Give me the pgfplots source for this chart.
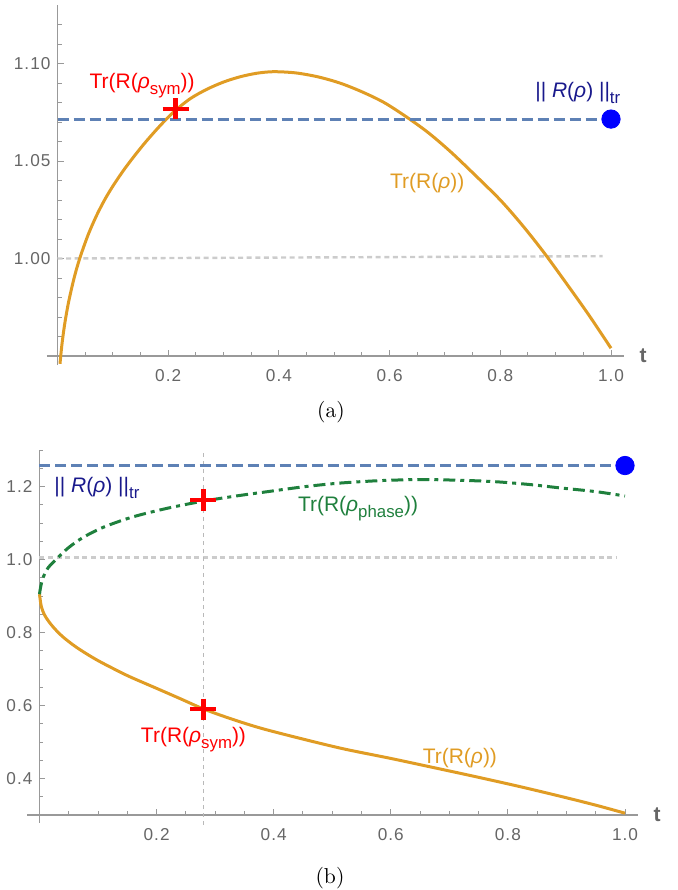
\documentclass[border=0pt]{standalone}
\usepackage{fontspec}
\usepackage{pgfplots}
\pgfplotsset{compat=1.18}

\newfontfamily\mma{Liberation Sans}
\newfontfamily\mmatick[LetterSpace=6]{Liberation Sans}
\newcommand\tickfont{\mmatick\fontsize{8.6}{10}\selectfont}
\newcommand\lblfont{\mma\fontsize{10.5}{12}\selectfont}
\newcommand\sub[1]{\raisebox{-0.28em}{\scalebox{0.8}{#1}}}

\definecolor{mblue}{rgb}{0.368,0.507,0.71}
\definecolor{morange}{rgb}{0.88,0.611,0.142}
\definecolor{mgreen}{rgb}{0.12,0.50,0.24}
\definecolor{mnavy}{rgb}{0.1,0.1,0.55}
\definecolor{axgray}{gray}{0.6}
\definecolor{lblgray}{gray}{0.4}
\definecolor{dotgray}{gray}{0.8}

\pgfplotsset{
  mma/.style={
    scale only axis, axis lines*=left, clip=false,
    axis line style={draw=axgray, line width=0.6pt},
    tick style={draw=axgray, line width=0.5pt},
    tick align=inside, major tick length=3pt, minor tick length=2pt,
    ticklabel style={font=\tickfont, text=lblgray},
    xticklabel style={yshift=-3.3pt},
    xmin=0, xmax=1,
    xtick={0.2,0.4,0.6,0.8,1.0},
    xticklabels={0.2,0.4,0.6,0.8,1.0},
    minor xtick={0.05,0.1,0.15,0.25,0.3,0.35,0.45,0.5,0.55,0.65,0.7,0.75,0.85,0.9,0.95},
  },
  refline/.style={dotgray, line width=1.2pt, dash pattern=on 2.5pt off 1.8pt},
  normline/.style={mblue, line width=1.5pt, dash pattern=on 5.5pt off 2.5pt},
  curve/.style={morange, line width=1.5pt, smooth},
  cross/.style={only marks, mark=+, red, mark size=6.5pt,
    mark options={line width=2.2pt, yscale=0.82}},
  bigdot/.style={only marks, mark=*, blue, mark size=4.6pt},
}

\begin{document}
\begin{tikzpicture}
\useasboundingbox (0pt,0pt) rectangle (338.5pt,-445pt);

% ---------- (a) ----------
\begin{axis}[mma,
  at={(28.75pt,-178pt)}, anchor=south west,
  width=276.75pt, height=175.5pt,
  ymin=0.95, ymax=1.13,
  ytick={1.00,1.05,1.10}, yticklabels={1.00,1.05,1.10},
  minor ytick={0.96,0.97,0.98,0.99,1.01,1.02,1.03,1.04,1.06,1.07,1.08,1.09,1.11,1.12},
  x axis line style={shorten <=-5.3pt, shorten >=-6.6pt},
  y axis line style={shorten <=-4.5pt},
]
\addplot[refline] coordinates {(0,1.000) (0.985,1.0012)};
\addplot[curve] coordinates {
  (0.0045,0.946) (0.008,0.9559) (0.013,0.9664) (0.02,0.9776) (0.03,0.9900)
  (0.04,0.9999) (0.055,1.0119) (0.07,1.0217) (0.085,1.0300) (0.10,1.0371)
  (0.12,1.0455) (0.14,1.0530) (0.16,1.0600) (0.185,1.0680) (0.21,1.0752)
  (0.24,1.0820) (0.27,1.0868) (0.30,1.0905) (0.33,1.0932) (0.36,1.0950)
  (0.39,1.0958) (0.43,1.0952) (0.47,1.0932) (0.51,1.0900) (0.55,1.0855)
  (0.59,1.0800) (0.631,1.0725) (0.67,1.0645) (0.71,1.0548) (0.75,1.0440)
  (0.80,1.0300) (0.84,1.0170) (0.879,1.0030) (0.92,0.987) (0.96,0.971)
  (1.0,0.954)};
\addplot[bigdot] coordinates {(1,1.0715)};
\addplot[normline] coordinates {(0,1.0715) (1,1.0715)};
\addplot[cross] coordinates {(0.2135,1.0768)};
\node[font=\lblfont, text=red] at (axis cs:0.153,1.0887) {Tr(R(\textit{ρ}\sub{sym}))};
\node[font=\lblfont, text=mnavy] at (axis cs:0.94,1.0851) {|| \textit{R}(\textit{ρ}) ||\sub{tr}};
\node[font=\lblfont, text=morange] at (axis cs:0.668,1.0385) {Tr(R(\textit{ρ}))};
\node[font=\mma\bfseries\fontsize{10.5}{12}\selectfont, text=lblgray, xshift=16pt] at (axis cs:1,0.95) {t};
\end{axis}
\node[font=\fontsize{10.8}{13}\selectfont] at (165.5pt,-206pt) {(a)};

% ---------- (b) ----------
\begin{axis}[mma,
  at={(19.75pt,-407.5pt)}, anchor=south west,
  width=292.75pt, height=182.5pt,
  ymin=0.3, ymax=1.3,
  ytick={0.4,0.6,0.8,1.0,1.2}, yticklabels={0.4,0.6,0.8,1.0,1.2},
  minor ytick={0.35,0.45,0.5,0.55,0.65,0.7,0.75,0.85,0.9,0.95,1.05,1.1,1.15,1.25,1.3},
  x axis line style={shorten <=-6pt, shorten >=-6.3pt},
  y axis line style={shorten <=-3.8pt},
]
\addplot[refline] coordinates {(0,1.005) (0.987,1.005)};
\addplot[gray!55, line width=0.9pt, dash pattern=on 2pt off 2pt] coordinates {(0.28,0.273) (0.28,1.3)};
\addplot[curve] coordinates {
  (0,0.905) (0.003,0.872) (0.008,0.850) (0.015,0.832) (0.025,0.812)
  (0.04,0.788) (0.06,0.763) (0.08,0.742) (0.10,0.723) (0.125,0.702)
  (0.154,0.679) (0.2,0.647) (0.24,0.619) (0.281,0.590) (0.33,0.562)
  (0.38,0.537) (0.45,0.508) (0.52,0.481) (0.6,0.455) (0.67,0.431)
  (0.745,0.405) (0.82,0.378) (0.893,0.350) (0.95,0.327) (1.0,0.305)};
\addplot[mgreen, line width=1.5pt, smooth, dash pattern=on 6pt off 2.5pt on 2pt off 2.5pt] coordinates {
  (0,0.905) (0.002,0.925) (0.006,0.95) (0.015,0.978) (0.032,1.006)
  (0.05,1.033) (0.075,1.061) (0.11,1.089) (0.16,1.117) (0.22,1.141)
  (0.28,1.160) (0.34,1.175) (0.39,1.186) (0.45,1.199) (0.51,1.209)
  (0.58,1.216) (0.65,1.219) (0.72,1.217) (0.78,1.213) (0.84,1.205)
  (0.89,1.196) (0.95,1.186) (1.0,1.174)};
\addplot[bigdot] coordinates {(1,1.2575)};
\addplot[normline] coordinates {(0,1.2575) (1,1.2575)};
\addplot[cross] coordinates {(0.28,1.163) (0.28,0.59)};
\node[font=\lblfont, text=mnavy] at (axis cs:0.098,1.197) {|| \textit{R}(\textit{ρ}) ||\sub{tr}};
\node[font=\lblfont, text=mgreen] at (axis cs:0.544,1.14) {Tr(R(\textit{ρ}\sub{phase}))};
\node[font=\lblfont, text=red] at (axis cs:0.263,0.507) {Tr(R(\textit{ρ}\sub{sym}))};
\node[font=\lblfont, text=morange] at (axis cs:0.718,0.457) {Tr(R(\textit{ρ}))};
\node[font=\mma\bfseries\fontsize{10.5}{12}\selectfont, text=lblgray, xshift=16pt] at (axis cs:1,0.3) {t};
\end{axis}
\node[font=\fontsize{10.8}{13}\selectfont] at (165pt,-439pt) {(b)};
\end{tikzpicture}
\end{document}
